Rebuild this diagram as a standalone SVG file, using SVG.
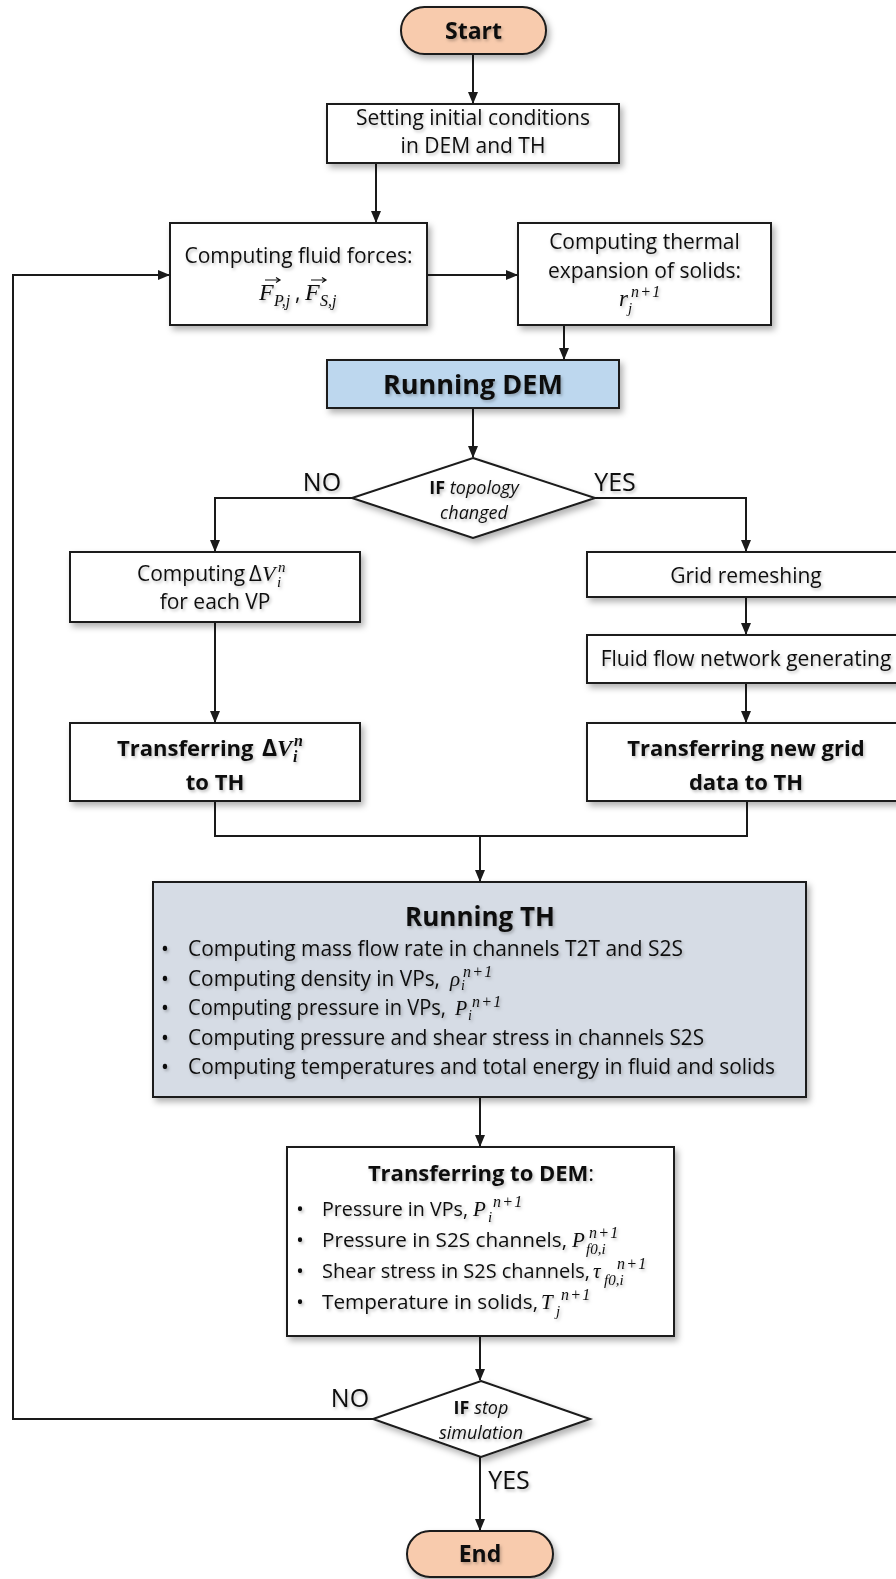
<svg xmlns="http://www.w3.org/2000/svg" width="896" height="1579" viewBox="0 0 896 1579">
<style>
.box{fill:#fff;stroke:#1a1a1a;stroke-width:2}
.pill{fill:#F8CBAD;stroke:#1a1a1a;stroke-width:2}
.dem{fill:#BDD7EE;stroke:#1a1a1a;stroke-width:2}
.th{fill:#D6DCE5;stroke:#1a1a1a;stroke-width:2}
.con{fill:none;stroke:#1a1a1a;stroke-width:2}
text{font-family:"Open Sans","Noto Sans",sans-serif;fill:#111}
.t{font-size:21px}
.c{text-anchor:middle}
.b{font-weight:bold}
.lbl{font-size:25px}
.dt{font-size:18px}
.it{font-style:italic}
.m{font-family:"Liberation Serif","DejaVu Serif",serif;font-style:italic}
.sp{font-size:16px;letter-spacing:1.2px}
.sb{font-size:15px}
.ts{filter:url(#tsh)}
</style>
<defs>
<filter id="sh" x="-10%" y="-10%" width="130%" height="140%"><feDropShadow dx="3" dy="4" stdDeviation="3" flood-color="#000" flood-opacity="0.3"/></filter>
<filter id="tsh" x="-5%" y="-20%" width="115%" height="160%"><feDropShadow dx="1.5" dy="2" stdDeviation="1.5" flood-color="#000" flood-opacity="0.25"/></filter>
<marker id="ah" markerUnits="userSpaceOnUse" markerWidth="12" markerHeight="10" refX="11" refY="5" orient="auto"><path d="M0,0 L12,5 L0,10 z" fill="#1a1a1a"/></marker>
</defs>

<g id="connectors">
<path class="con" d="M473,54 V103" marker-end="url(#ah)"/>
<path class="con" d="M376,163 V222" marker-end="url(#ah)"/>
<path class="con" d="M427,275 H517" marker-end="url(#ah)"/>
<path class="con" d="M564,325 V359" marker-end="url(#ah)"/>
<path class="con" d="M473,408 V457" marker-end="url(#ah)"/>
<path class="con" d="M352,498 H215 V551" marker-end="url(#ah)"/>
<path class="con" d="M595,498 H746 V551" marker-end="url(#ah)"/>
<path class="con" d="M215,622 V722" marker-end="url(#ah)"/>
<path class="con" d="M746,597 V634" marker-end="url(#ah)"/>
<path class="con" d="M746,683 V722" marker-end="url(#ah)"/>
<path class="con" d="M215,801 V836 H747 V801"/>
<path class="con" d="M480,836 V881" marker-end="url(#ah)"/>
<path class="con" d="M480,1097 V1146" marker-end="url(#ah)"/>
<path class="con" d="M480,1336 V1380" marker-end="url(#ah)"/>
<path class="con" d="M480,1457 V1530" marker-end="url(#ah)"/>
<path class="con" d="M373,1419 H13 V275 H169" marker-end="url(#ah)"/>
<text class="lbl c ts" x="322" y="491">NO</text>
<text class="lbl c ts" x="615" y="491">YES</text>
<text class="lbl c ts" x="350" y="1407">NO</text>
<text class="lbl c ts" x="509" y="1489">YES</text>
</g>

<g id="start">
<rect class="pill" x="401" y="7" width="145" height="47" rx="23.5" filter="url(#sh)"/>
<text class="c b ts" x="473.5" y="39" font-size="23">Start</text>
</g>

<g id="setting">
<rect class="box" x="327" y="104" width="292" height="59" filter="url(#sh)"/>
<text class="t c ts" x="473" y="125">Setting initial conditions</text>
<text class="t c ts" x="473" y="153">in DEM and TH</text>
</g>

<g id="fluidforces">
<rect class="box" x="170" y="223" width="257" height="102" filter="url(#sh)"/>
<text class="t c ts" x="298.5" y="263">Computing fluid forces:</text>
<g class="ts">
<text class="m" x="259" y="300" font-size="24">F</text>
<text class="m" x="274" y="306" font-size="16">P,j</text>
<text x="295" y="300" font-size="21">,</text>
<text class="m" x="305" y="300" font-size="24">F</text>
<text class="m" x="320" y="306" font-size="16">S,j</text>
</g>
<path d="M265,280 H279 M276,277.5 L280,280 L276,282.5" fill="none" stroke="#111" stroke-width="1.2"/>
<path d="M311,280 H325 M322,277.5 L326,280 L322,282.5" fill="none" stroke="#111" stroke-width="1.2"/>
</g>

<g id="thermal">
<rect class="box" x="518" y="223" width="253" height="102" filter="url(#sh)"/>
<text class="t c ts" x="644.5" y="249">Computing thermal</text>
<text class="t c ts" x="644.5" y="278">expansion of solids:</text>
<g class="ts">
<text class="m" x="619" y="306" font-size="23">r</text>
<text class="m sp" x="631" y="297" font-size="17">n+1</text>
<text class="m sb" x="628" y="313">j</text>
</g>
</g>

<g id="rundem">
<rect class="dem" x="327" y="360" width="292" height="48" filter="url(#sh)"/>
<text class="c b ts" x="473" y="394" font-size="27">Running DEM</text>
</g>

<g id="iftopology">
<polygon class="box" points="473,458 595,498 473,538 352,498" filter="url(#sh)"/>
<text class="dt c ts" x="474" y="494"><tspan class="b">IF</tspan> <tspan class="it">topology</tspan></text>
<text class="dt c it ts" x="474" y="519">changed</text>
</g>

<g id="computedv">
<rect class="box" x="70" y="552" width="290" height="70" filter="url(#sh)"/>
<g class="ts">
<text class="t" x="137" y="581">Computing</text>
<text x="249" y="581" font-size="22" font-family="Liberation Serif,serif">Δ</text>
<text class="m" x="262" y="581" font-size="22">V</text>
<text class="m" x="278" y="572" font-size="15">n</text>
<text class="m" x="277" y="587" font-size="15">i</text>
</g>
<text class="t c ts" x="215" y="609">for each VP</text>
</g>

<g id="transferdv">
<rect class="box" x="70" y="723" width="290" height="78" filter="url(#sh)"/>
<g class="ts">
<text class="b" x="117" y="756" font-size="22">Transferring</text>
<text x="262" y="756" font-size="23" font-weight="bold" font-family="Liberation Serif,serif">Δ</text>
<text class="m b" x="277" y="756" font-size="23">V</text>
<text class="m b" x="294" y="746" font-size="16">n</text>
<text class="m b" x="293" y="762" font-size="16">i</text>
</g>
<text class="c b ts" x="215" y="790" font-size="22">to TH</text>
</g>

<g id="gridremesh">
<rect class="box" x="587" y="552" width="320" height="45" filter="url(#sh)"/>
<text class="t c ts" x="746" y="583">Grid remeshing</text>
</g>

<g id="fluidflow">
<rect class="box" x="587" y="635" width="320" height="48" filter="url(#sh)"/>
<text class="t c ts" x="746" y="666">Fluid flow network generating</text>
</g>

<g id="transfergrid">
<rect class="box" x="587" y="723" width="320" height="78" filter="url(#sh)"/>
<text class="c b ts" x="746" y="756" font-size="22">Transferring new grid</text>
<text class="c b ts" x="746" y="790" font-size="22">data to TH</text>
</g>

<g id="runth">
<rect class="th" x="153" y="882" width="653" height="215" filter="url(#sh)"/>
<text class="c b ts" x="480" y="926" font-size="26">Running TH</text>
<g class="ts" font-size="21">
<text class="c" x="165" y="956">•</text>
<text x="188" y="956" textLength="495" lengthAdjust="spacingAndGlyphs">Computing mass flow rate in channels T2T and S2S</text>
<text class="c" x="165" y="985.5">•</text>
<text x="188" y="985.5" textLength="252" lengthAdjust="spacingAndGlyphs">Computing density in VPs,</text>
<text class="m" x="450" y="985.5" font-size="21">ρ</text>
<text class="m sp" x="463" y="977">n+1</text>
<text class="m" x="461" y="990" font-size="14">i</text>
<text class="c" x="165" y="1015">•</text>
<text x="188" y="1015" textLength="258" lengthAdjust="spacingAndGlyphs">Computing pressure in VPs,</text>
<text class="m" x="455" y="1015" font-size="20">P</text>
<text class="m sp" x="472" y="1007">n+1</text>
<text class="m" x="468" y="1020" font-size="14">i</text>
<text class="c" x="165" y="1044.5">•</text>
<text x="188" y="1044.5" textLength="516" lengthAdjust="spacingAndGlyphs">Computing pressure and shear stress in channels S2S</text>
<text class="c" x="165" y="1074">•</text>
<text x="188" y="1074" textLength="587" lengthAdjust="spacingAndGlyphs">Computing temperatures and total energy in fluid and solids</text>
</g>
</g>

<g id="transferdem">
<rect class="box" x="287" y="1147" width="387" height="189" filter="url(#sh)"/>
<text class="c ts" x="481" y="1181" font-size="22"><tspan class="b">Transferring to DEM</tspan>:</text>
<g class="ts" font-size="20">
<text class="c" x="300" y="1216">•</text>
<text x="322" y="1216" textLength="146" lengthAdjust="spacingAndGlyphs">Pressure in VPs,</text>
<text class="m" x="473" y="1216" font-size="21">P</text>
<text class="m sp" x="493" y="1207">n+1</text>
<text class="m" x="488" y="1222" font-size="15">i</text>
<text class="c" x="300" y="1247">•</text>
<text x="322" y="1247" textLength="245" lengthAdjust="spacingAndGlyphs">Pressure in S2S channels,</text>
<text class="m" x="572" y="1247" font-size="21">P</text>
<text class="m sp" x="589" y="1238">n+1</text>
<text class="m sb" x="586" y="1254">f0,i</text>
<text class="c" x="300" y="1278">•</text>
<text x="322" y="1278" textLength="268" lengthAdjust="spacingAndGlyphs">Shear stress in S2S channels,</text>
<text class="m" x="593" y="1278" font-size="21">τ</text>
<text class="m sp" x="617" y="1269">n+1</text>
<text class="m sb" x="604" y="1285">f0,i</text>
<text class="c" x="300" y="1309">•</text>
<text x="322" y="1309" textLength="216" lengthAdjust="spacingAndGlyphs">Temperature in solids,</text>
<text class="m" x="541" y="1309" font-size="21">T</text>
<text class="m sp" x="561" y="1300">n+1</text>
<text class="m sb" x="556" y="1316">j</text>
</g>
</g>

<g id="ifstop">
<polygon class="box" points="481,1381 590,1419 481,1457 373,1419" filter="url(#sh)"/>
<text class="dt c ts" x="481" y="1414"><tspan class="b">IF</tspan> <tspan class="it">stop</tspan></text>
<text class="dt c it ts" x="481" y="1439">simulation</text>
</g>

<g id="end">
<rect class="pill" x="407" y="1531" width="146" height="46" rx="23" filter="url(#sh)"/>
<text class="c b ts" x="480" y="1562" font-size="23">End</text>
</g>
</svg>
